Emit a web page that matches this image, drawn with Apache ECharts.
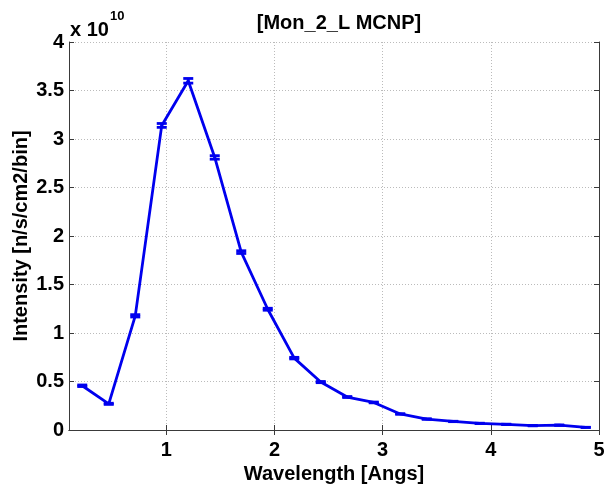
<!DOCTYPE html>
<html>
<head>
<meta charset="utf-8">
<script src="https://cdn.jsdelivr.net/npm/echarts@6/dist/echarts.min.js"></script>
<style>html,body{margin:0;padding:0;background:#fff}#c{width:604px;height:490px}</style>
</head>
<body>
<div id="c"></div>
<script>
// Bin centres (Angstrom)
const wavelength = [0.2225,0.4675,0.7125,0.9575,1.2025,1.4475,1.6925,1.9375,2.1825,2.4275,2.6725,2.9175,3.1625,3.4075,3.6525,3.8975,4.1425,4.3875,4.6325,4.8775];
// Intensity in units of 1e10 n/s/cm2/bin
const intensity = [0.456,0.270,1.177,3.140,3.600,2.810,1.834,1.245,0.741,0.494,0.340,0.284,0.165,0.113,0.088,0.068,0.058,0.045,0.050,0.027];
// Error (same units)
const errors = [0.008,0.006,0.012,0.020,0.024,0.018,0.014,0.010,0.008,0.006,0.005,0.004,0.003,0.003,0.002,0.002,0.002,0.002,0.002,0.001];
const xTicks = [1,2,3,4,5];
const yTicks = [0,0.5,1,1.5,2,2.5,3,3.5,4];

const FONT = "'Liberation Sans', Arial, Helvetica, sans-serif";
const BLUE = '#0000ee';
const AX = '#3a3a3a';

const chart = echarts.init(document.getElementById('c'), null, {renderer:'canvas'});
const lineData = wavelength.map((x,i)=>[x,intensity[i]]);
const errData = wavelength.map((x,i)=>[x,intensity[i]-errors[i],intensity[i]+errors[i]]);

const tickLabel = {fontFamily:FONT,fontWeight:'bold',fontSize:20,color:'#000'};

chart.setOption({
  animation:false,
  backgroundColor:'#fff',
  title:{text:'[Mon_2_L MCNP]',left:334,top:8,textAlign:'center',
    textStyle:{fontFamily:FONT,fontWeight:'bold',fontSize:20,color:'#000'}},
  graphic:[
    {type:'text',x:70,y:30,style:{text:'x 10',fontFamily:FONT,fontWeight:'bold',fontSize:20,fill:'#000',verticalAlign:'middle',align:'left'}},
    {type:'text',x:110,y:16,style:{text:'10',fontFamily:FONT,fontWeight:'bold',fontSize:13,fill:'#000',verticalAlign:'middle',align:'left'}}
  ],
  grid:{left:69,right:5,top:42,bottom:60,containLabel:false,outerBoundsMode:'none'},
  xAxis:[{
    type:'value',min:0.1,max:5,position:'bottom',
    name:'Wavelength [Angs]',nameLocation:'middle',nameGap:34,nameMoveOverlap:false,
    nameTextStyle:{fontFamily:FONT,fontWeight:'bold',fontSize:20,color:'#000'},
    axisLine:{show:true,lineStyle:{color:AX,width:1}},
    axisTick:{show:true,inside:true,length:5,customValues:xTicks,lineStyle:{color:AX}},
    axisLabel:{show:true,customValues:xTicks,margin:10,...tickLabel,formatter:v=>String(v)},
    splitLine:{show:true,lineStyle:{color:'#bbbbbb',type:[1,2],width:1}}
  },{
    type:'value',min:0.1,max:5,position:'top',
    axisLine:{show:true,lineStyle:{color:AX,width:1}},
    axisTick:{show:true,inside:true,length:5,customValues:xTicks,lineStyle:{color:AX}},
    axisLabel:{show:false},splitLine:{show:false}
  }],
  yAxis:[{
    type:'value',min:0,max:4,interval:0.5,position:'left',
    name:'Intensity [n/s/cm2/bin]',nameLocation:'middle',nameGap:38,nameRotate:90,nameMoveOverlap:false,
    nameTextStyle:{fontFamily:FONT,fontWeight:'bold',fontSize:20,color:'#000'},
    axisLine:{show:true,lineStyle:{color:AX,width:1}},
    axisTick:{show:true,inside:true,length:5,lineStyle:{color:AX}},
    axisLabel:{show:true,margin:5,...tickLabel,formatter:v=>String(v)},
    splitLine:{show:true,lineStyle:{color:'#bbbbbb',type:[1,2],width:1}}
  },{
    type:'value',min:0,max:4,interval:0.5,position:'right',
    axisLine:{show:true,lineStyle:{color:AX,width:1}},
    axisTick:{show:true,inside:true,length:5,lineStyle:{color:AX}},
    axisLabel:{show:false},splitLine:{show:false}
  }],
  series:[{
    type:'line',data:lineData,xAxisIndex:0,yAxisIndex:0,
    showSymbol:false,symbol:'none',
    lineStyle:{color:BLUE,width:2.8},z:3
  },{
    type:'custom',data:errData,xAxisIndex:0,yAxisIndex:0,z:4,
    renderItem:function(params,api){
      const x=api.value(0), lo=api.value(1), hi=api.value(2);
      const pLo=api.coord([x,lo]), pHi=api.coord([x,hi]);
      const hw=5;
      const st={stroke:BLUE,lineWidth:2.8};
      return {type:'group',children:[
        {type:'line',shape:{x1:pLo[0],y1:pLo[1],x2:pHi[0],y2:pHi[1]},style:st},
        {type:'line',shape:{x1:pLo[0]-hw,y1:pLo[1],x2:pLo[0]+hw,y2:pLo[1]},style:st},
        {type:'line',shape:{x1:pHi[0]-hw,y1:pHi[1],x2:pHi[0]+hw,y2:pHi[1]},style:st}
      ]};
    }
  }]
});
</script>
</body>
</html>
